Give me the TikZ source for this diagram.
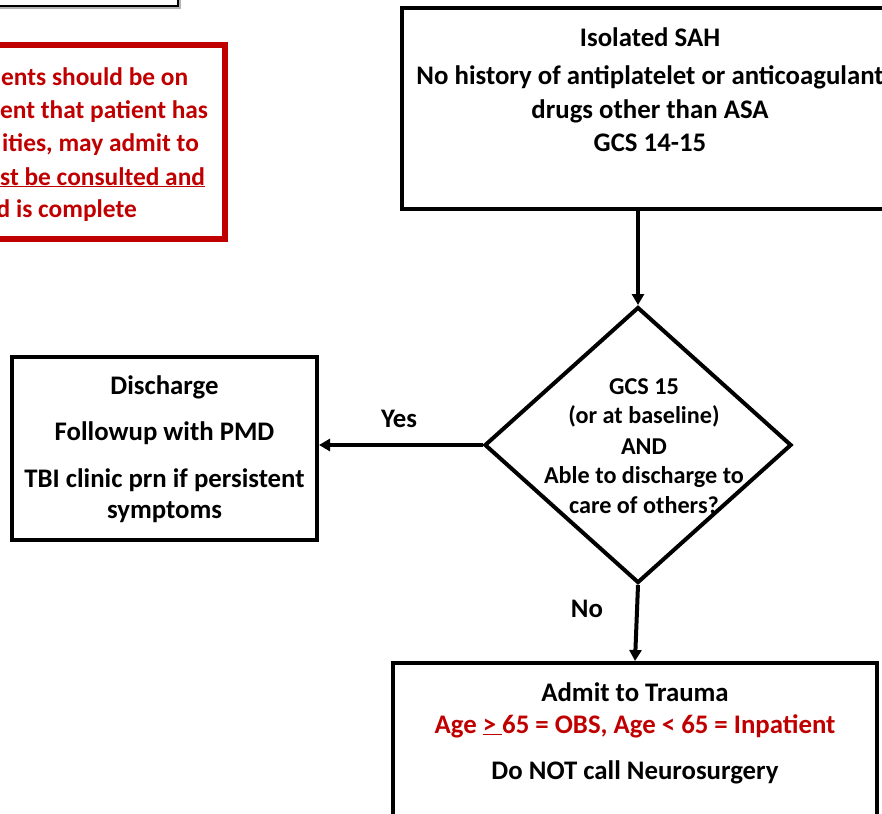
\documentclass[tikz,border=0pt]{standalone}
\usepackage{fontspec}
\setmainfont{Carlito}
\usetikzlibrary{shapes.geometric,arrows.meta,positioning}
\definecolor{warnred}{HTML}{C00000}

\tikzset{
  box/.style={draw,line width=4pt,inner sep=0pt,fill=white},
  txt/.style={font=\fontsize{26.8}{32}\selectfont\bfseries,anchor=base,inner sep=0pt},
  smalltxt/.style={txt,font=\fontsize{24.2}{29}\selectfont\bfseries},
  redtxt/.style={txt,text=warnred},
}

\begin{document}
\begin{tikzpicture}[x=1pt,y=-1pt]
\useasboundingbox (0,0) rectangle (882,813);
\clip (0,0) rectangle (882,813);

% partly visible boxes on the left
\fill[black!30] (-20,-20) rectangle (181,9);
\node[draw,line width=2pt,fill=white,inner sep=0pt,minimum width=198pt,minimum height=25pt] (prev) at (79,-6.5) {};
\node[draw=warnred,line width=5.5pt,inner sep=0pt,minimum width=500pt,minimum height=194pt] (note) at (-25,142) {};
\foreach \y/\s/\t [count=\n] in {86/1/ents should be on,119/0/ent that patient has,152/2/{ities, may admit to},185/0/\underline{st be consulted and}}
  \node[redtxt,font=\fontsize{25.4}{30}\selectfont\bfseries,anchor=base west] (note\n) at (\s,\y) {\t};
\node[redtxt,font=\fontsize{25.4}{30}\selectfont\bfseries,anchor=base east] (note5) at (137,217) {d is complete};

% main boxes
\node[box,minimum width=496pt,minimum height=201pt] (iso) at (650,108.5) {};
\foreach \y/\t [count=\n] in {47/Isolated SAH,85/No history of antiplatelet or anticoagulant,119/drugs other than ASA,152/GCS 14-15}
  \node[txt] (iso\n) at (650,\y) {\t};

\node[draw,diamond,line width=4pt,inner sep=0pt,minimum width=307pt,minimum height=276pt] (ask) at (638,445) {};
\foreach \y/\t [count=\n] in {394/GCS 15,423/(or at baseline),454/AND,483/Able to discharge to,513/care of others?}
  \node[smalltxt] (ask\n) at (644,\y) {\t};

\node[box,minimum width=305pt,minimum height=183pt] (dis) at (164.5,448.5) {};
\foreach \y/\t [count=\n] in {394/Discharge,440/Followup with PMD,487/TBI clinic prn if persistent,518/symptoms}
  \node[txt] (dis\n) at (164.5,\y) {\t};

\node[box,minimum width=484pt,minimum height=200pt] (adm) at (635,763) {};
\node[txt] (adm1) at (635,701) {Admit to Trauma};
\node[redtxt] (adm2) at (635,733) {Age \underline{>\ }65 = OBS, Age < 65 = Inpatient};
\node[txt] (adm3) at (635,779) {Do NOT call Neurosurgery};

% connectors
\path [->,>={Triangle[length=11pt,width=12pt]},line width=4pt]
  (iso.south -| ask.north) edge node {} (ask.north)
  (ask.west) edge node {} (ask.west -| dis.east)
  (ask.south) edge node {} (adm.north);
\node[txt] (yes) at (399,427) {Yes};
\node[txt] (no) at (587,617) {No};
\end{tikzpicture}
\end{document}
